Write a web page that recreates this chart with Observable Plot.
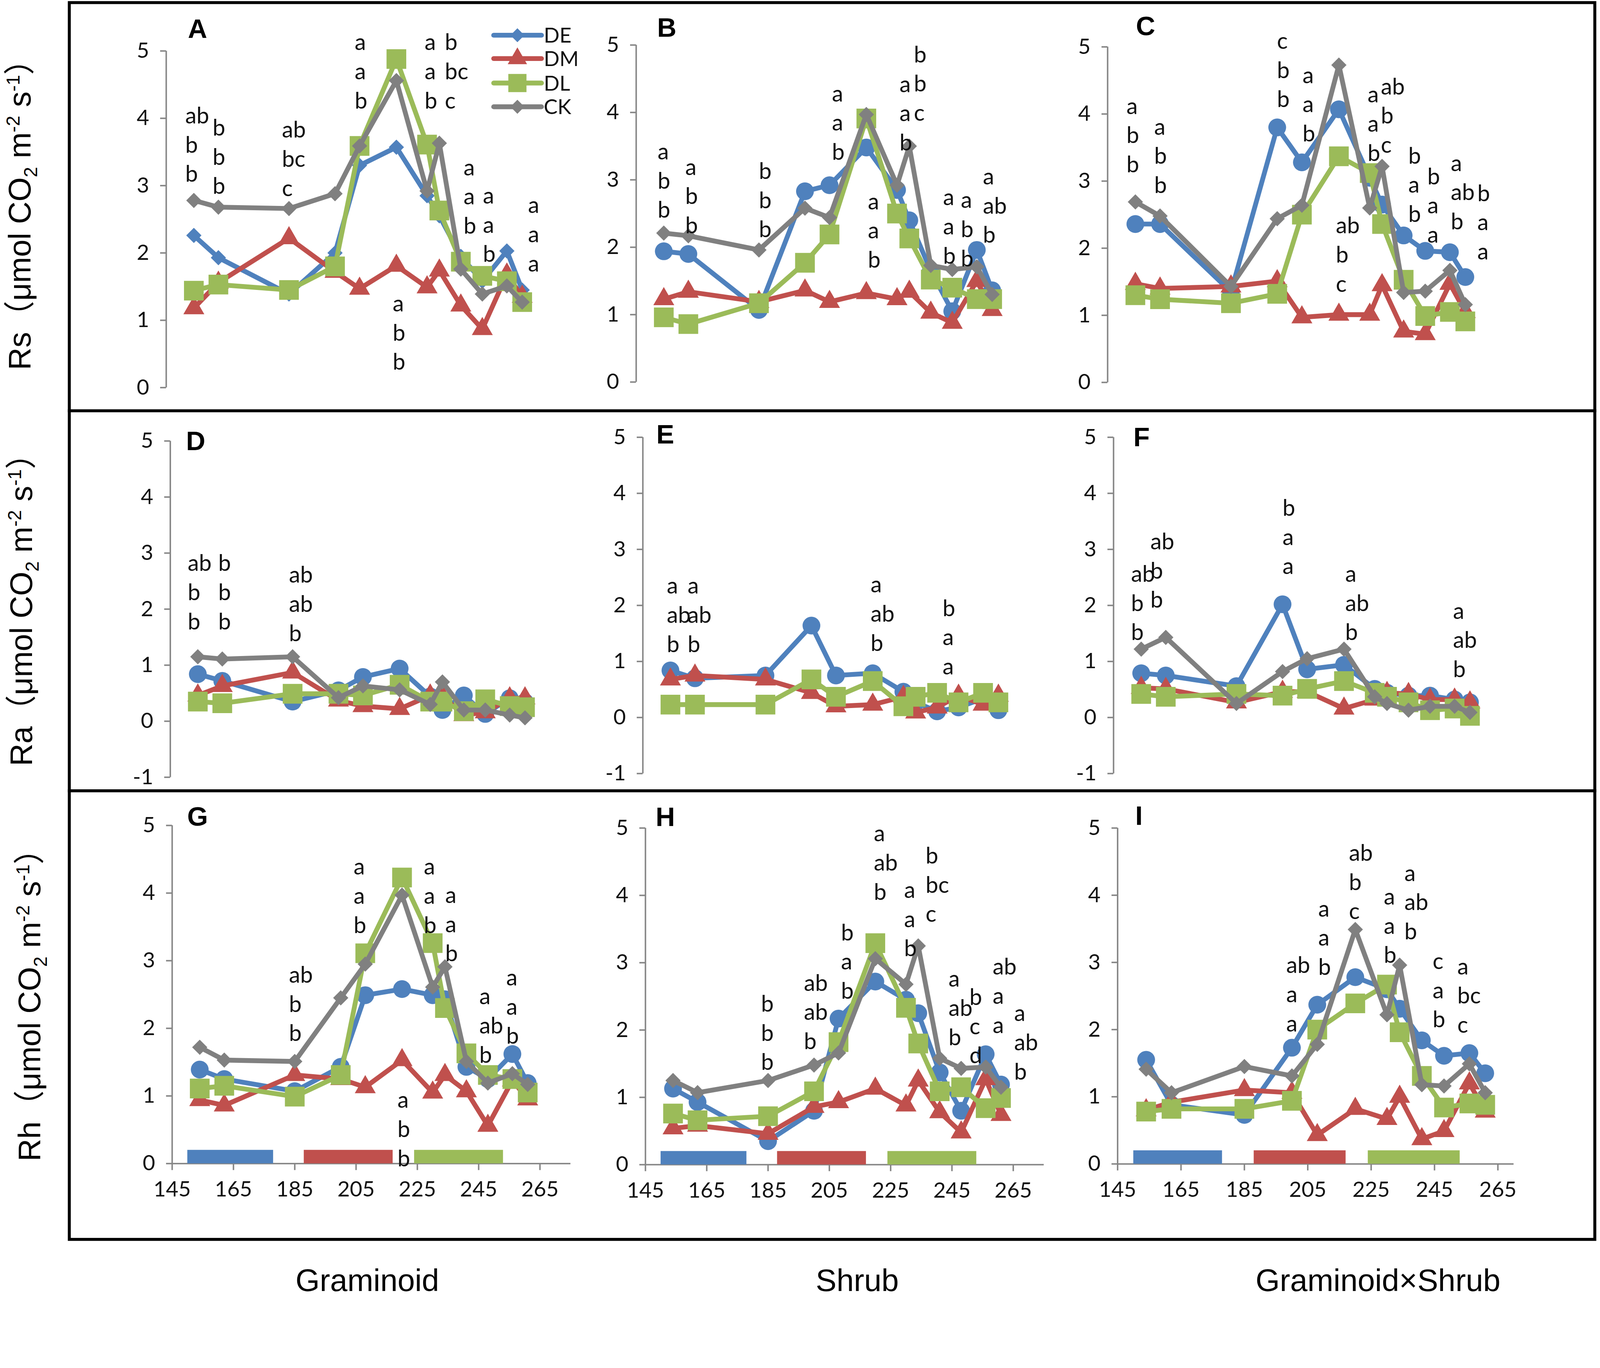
<!DOCTYPE html>
<html><head><meta charset="utf-8">
<script src="https://cdn.jsdelivr.net/npm/d3@7"></script>
<script src="https://cdn.jsdelivr.net/npm/@observablehq/plot@0.6"></script>
<style>
html,body{margin:0;padding:0;background:#fff;overflow:hidden;}
#fig{position:relative;width:4317px;height:3501px;background:#fff;overflow:hidden;transform-origin:0 0;}
#fig svg{overflow:visible;}
.ylab{position:absolute;white-space:nowrap;font-family:"Liberation Sans","Noto Sans CJK SC",Arial,sans-serif;font-size:84px;line-height:0.9;color:#000;transform:translate(-50%,-50%) rotate(-90deg);}
.ylab sub,.ylab sup{font-size:0.6em;line-height:0;}
.plab{position:absolute;font-family:"Liberation Sans",Arial,sans-serif;font-weight:bold;font-size:72px;line-height:1;color:#000;transform:translate(-50%,-50%);}
.blab{position:absolute;font-family:"Liberation Sans",Arial,sans-serif;font-size:84px;line-height:0.85;color:#000;transform:translateX(-50%);white-space:nowrap;}
</style></head>
<body><div id="fig"></div>
<script>
// ---------------- data ----------------
const days = [154, 162, 185, 200, 208, 220, 230, 234, 241, 248, 256, 261];
const seriesNames = ["DE", "DM", "DL", "CK"];
const xTicks = [145, 165, 185, 205, 225, 245, 265];
const columnNames = ["Graminoid", "Shrub", "Graminoid×Shrub"];
const rowNames = ["Rs", "Ra", "Rh"];

// Rs
const A_DE = [2.26, 1.93, 1.39, 2.00, 3.30, 3.57, 2.85, 2.55, 1.95, 1.58, 2.03, 1.45];
const A_DM = [1.18, 1.56, 2.22, 1.72, 1.47, 1.81, 1.49, 1.74, 1.22, 0.87, 1.68, 1.35];
const A_DL = [1.44, 1.53, 1.45, 1.80, 3.59, 4.88, 3.61, 2.63, 1.87, 1.66, 1.58, 1.27];
const A_CK = [2.78, 2.68, 2.66, 2.88, 3.59, 4.56, 2.92, 3.63, 1.76, 1.39, 1.51, 1.27];

const B_DE = [1.94, 1.90, 1.07, 2.83, 2.92, 3.48, 2.85, 2.40, 1.65, 1.05, 1.96, 1.36];
const B_DM = [1.23, 1.34, 1.19, 1.36, 1.19, 1.32, 1.23, 1.34, 1.03, 0.88, 1.50, 1.07];
const B_DL = [0.96, 0.86, 1.17, 1.77, 2.19, 3.91, 2.50, 2.13, 1.52, 1.40, 1.23, 1.23];
const B_CK = [2.21, 2.17, 1.96, 2.58, 2.44, 3.97, 2.92, 3.50, 1.73, 1.67, 1.71, 1.30];

const C_DE = [2.36, 2.36, 1.35, 3.80, 3.28, 4.07, 3.05, 2.65, 2.19, 1.96, 1.94, 1.57];
const C_DM = [1.47, 1.40, 1.43, 1.51, 0.97, 1.01, 1.01, 1.45, 0.76, 0.72, 1.47, 1.05];
const C_DL = [1.30, 1.24, 1.18, 1.32, 2.50, 3.37, 3.12, 2.36, 1.53, 0.99, 1.05, 0.91];
const C_CK = [2.69, 2.48, 1.43, 2.44, 2.64, 4.73, 2.60, 3.22, 1.34, 1.36, 1.67, 1.16];

// Ra
const D_DE = [0.84, 0.72, 0.35, 0.55, 0.79, 0.94, 0.44, 0.20, 0.46, 0.13, 0.41, 0.34];
const D_DM = [0.46, 0.63, 0.87, 0.37, 0.27, 0.22, 0.46, 0.44, 0.11, 0.16, 0.41, 0.41];
const D_DL = [0.35, 0.32, 0.49, 0.49, 0.46, 0.65, 0.35, 0.35, 0.18, 0.39, 0.27, 0.25];
const D_CK = [1.15, 1.11, 1.15, 0.42, 0.63, 0.56, 0.30, 0.70, 0.20, 0.20, 0.11, 0.06];

const E_DE = [0.84, 0.70, 0.75, 1.64, 0.75, 0.79, 0.46, 0.27, 0.11, 0.18, 0.34, 0.13];
const E_DM = [0.68, 0.75, 0.68, 0.44, 0.20, 0.23, 0.37, 0.09, 0.18, 0.39, 0.23, 0.39];
const E_DL = [0.23, 0.23, 0.23, 0.68, 0.37, 0.65, 0.20, 0.37, 0.44, 0.27, 0.44, 0.27];
const E_CK = [];

const F_DE = [0.79, 0.75, 0.56, 2.02, 0.86, 0.94, 0.51, 0.44, 0.39, 0.39, 0.32, 0.27];
const F_DM = [0.53, 0.51, 0.27, 0.46, 0.46, 0.16, 0.32, 0.44, 0.42, 0.32, 0.32, 0.27];
const F_DL = [0.42, 0.37, 0.42, 0.39, 0.51, 0.65, 0.44, 0.37, 0.27, 0.13, 0.16, 0.03];
const F_CK = [1.22, 1.43, 0.25, 0.82, 1.05, 1.22, 0.37, 0.25, 0.13, 0.20, 0.20, 0.09];

// Rh
const G_DE = [1.39, 1.25, 1.07, 1.43, 2.49, 2.58, 2.49, 2.43, 1.43, 1.25, 1.62, 1.19];
const G_DM = [0.94, 0.86, 1.31, 1.25, 1.13, 1.53, 1.05, 1.31, 1.07, 0.56, 1.23, 0.95];
const G_DL = [1.11, 1.15, 0.99, 1.31, 3.11, 4.23, 3.26, 2.30, 1.63, 1.31, 1.25, 1.05];
const G_CK = [1.72, 1.53, 1.51, 2.45, 2.95, 3.97, 2.61, 2.91, 1.51, 1.19, 1.33, 1.17];

const H_DE = [1.13, 0.93, 0.35, 0.80, 2.17, 2.72, 2.45, 2.25, 1.37, 0.80, 1.64, 1.19];
const H_DM = [0.54, 0.58, 0.46, 0.86, 0.93, 1.13, 0.88, 1.25, 0.78, 0.48, 1.27, 0.74];
const H_DL = [0.76, 0.66, 0.72, 1.09, 1.82, 3.29, 2.33, 1.80, 1.09, 1.15, 0.84, 0.99];
const H_CK = [1.25, 1.07, 1.25, 1.48, 1.66, 3.06, 2.68, 3.25, 1.58, 1.43, 1.45, 1.15];

const I_DE = [1.55, 0.88, 0.73, 1.73, 2.37, 2.78, 2.60, 2.31, 1.84, 1.61, 1.65, 1.35];
const I_DM = [0.80, 0.92, 1.10, 1.06, 0.43, 0.82, 0.67, 1.00, 0.37, 0.49, 1.20, 0.78];
const I_DL = [0.78, 0.82, 0.82, 0.94, 2.00, 2.39, 2.67, 1.96, 1.31, 0.84, 0.90, 0.88];
const I_CK = [1.41, 1.06, 1.45, 1.31, 1.78, 3.49, 2.22, 2.96, 1.18, 1.16, 1.49, 1.06];

// significance letters: [day, value at top of first line, lines]
const A_letters = [[151.2,4.23,"ab\nb\nb"],[160.1,4.05,"b\nb\nb"],[182.7,4.02,"ab\nbc\nc"],[206.4,5.32,"a\na\nb"],[229.2,5.32,"a\na\nb"],[235.8,5.32,"b\nbc\nc"],[241.9,3.46,"a\na\nb"],[248.2,3.04,"a\na\nb"],[262.9,2.90,"a\na\na"],[218.8,1.44,"a\nb\nb"]];
const B_letters = [[152.0,3.61,"a\nb\nb"],[161.0,3.38,"a\nb\nb"],[185.0,3.32,"b\nb\nb"],[208.8,4.47,"a\na\nb"],[220.5,2.87,"a\na\nb"],[230.8,4.61,"a\na\nb"],[235.5,5.05,"b\nb\nc"],[245.0,2.93,"a\na\nb"],[250.8,2.89,"a\nb\nb"],[258.0,3.24,"a\nab\nb"]];
const C_letters = [[151.1,4.31,"a\nb\nb"],[160.1,4.00,"a\nb\nb"],[199.9,5.28,"c\nb\nb"],[208.2,4.77,"a\na\nb"],[219.0,2.53,"ab\nb\nc"],[229.3,4.48,"a\na\nb"],[233.6,4.60,"ab\nb\nc"],[242.5,3.57,"b\na\nb"],[248.7,3.26,"b\na\na"],[256.3,3.46,"a\nab\nb"],[264.9,3.01,"b\na\na"]];
const D_letters = [[150.7,3.05,"ab\nb\nb"],[160.7,3.05,"b\nb\nb"],[183.8,2.84,"ab\nab\nb"]];
const E_letters = [[152.8,2.58,"a\nab\nb"],[159.6,2.58,"a\nab\nb"],[219.3,2.60,"a\nab\nb"],[242.8,2.18,"b\na\na"]];
const F_letters = [[150.7,2.79,"ab\nb\nb"],[157.0,3.37,"ab\nb\nb"],[200.0,3.97,"b\na\na"],[220.4,2.79,"a\nab\nb"],[255.5,2.13,"a\nab\nb"]];
const G_letters = [[183.1,2.98,"ab\nb\nb"],[204.2,4.58,"a\na\nb"],[227.1,4.58,"a\na\nb"],[234.1,4.16,"a\na\nb"],[245.2,2.66,"a\nab\nb"],[254.0,2.94,"a\na\nb"],[218.5,1.13,"a\nb\nb"]];
const H_letters = [[182.7,2.58,"b\nb\nb"],[196.7,2.89,"ab\nab\nb"],[208.8,3.64,"b\na\nb"],[219.5,5.11,"a\nab\nb"],[229.4,4.27,"a\na\nb"],[236.4,4.78,"b\nbc\nc"],[243.9,2.95,"a\nab\nb"],[250.7,2.68,"b\nc\nd"],[258.3,3.13,"ab\na\na"],[265.3,2.44,"a\nab\nb"]];
const I_letters = [[198.2,3.15,"ab\na\na"],[208.3,3.99,"a\na\nb"],[218.0,4.82,"ab\nb\nc"],[229.0,4.17,"a\na\nb"],[235.5,4.52,"a\nab\nb"],[244.4,3.21,"c\na\nb"],[252.2,3.13,"a\nbc\nc"]];

// drought periods (bars under Rh panels)
const droughtSeries = ["DE", "DM", "DL"];
const droughtStart = [150, 188, 224];
const droughtEnd = [178, 217, 253];
const barTop = 0.2;

// ---------------- styles ----------------
const colors = {DE: "#4F81BD", DM: "#C0504D", DL: "#9BBB59", CK: "#808080"};
const axisGray = "#868686";
const textColor = "#111";
const lineW = 13;
const markerR = {circle: 24, diamond2: 18.5, triangle: 21, square: 30};
const letterSize = 61, tickFont = 58;

// ---------------- layout ----------------
const panels = [
  {key:"A", axisX:448,  topPx:137,  botPx:1045, yMin:0,  pxDay:8.28, xMax:275, deSym:"diamond2", data:[A_DE,A_DM,A_DL,A_CK], letters:A_letters, xAxis:false, lab:[533,77]},
  {key:"B", axisX:1716, topPx:121,  botPx:1030, yMin:0,  pxDay:8.28, xMax:275, deSym:"circle",   data:[B_DE,B_DM,B_DL,B_CK], letters:B_letters, xAxis:false, lab:[1799,74]},
  {key:"C", axisX:2988, topPx:126,  botPx:1031, yMin:0,  pxDay:8.32, xMax:275, deSym:"circle",   data:[C_DE,C_DM,C_DL,C_CK], letters:C_letters, xAxis:false, lab:[3091,70]},
  {key:"D", axisX:459,  topPx:1189, botPx:2096, yMin:-1, pxDay:8.25, xMax:275, deSym:"circle",   data:[D_DE,D_DM,D_DL,D_CK], letters:D_letters, xAxis:false, lab:[528,1189]},
  {key:"E", axisX:1734, topPx:1179, botPx:2086, yMin:-1, pxDay:8.27, xMax:275, deSym:"circle",   data:[E_DE,E_DM,E_DL,E_CK], letters:E_letters, xAxis:false, lab:[1795,1171]},
  {key:"F", axisX:3004, topPx:1179, botPx:2086, yMin:-1, pxDay:8.29, xMax:275, deSym:"circle",   data:[F_DE,F_DM,F_DL,F_CK], letters:F_letters, xAxis:false, lab:[3080,1179]},
  {key:"G", axisX:464,  topPx:2226, botPx:3138, yMin:0,  pxDay:8.27, xMax:275, deSym:"circle",   data:[G_DE,G_DM,G_DL,G_CK], letters:G_letters, xAxis:true,  lab:[533,2202]},
  {key:"H", axisX:1741, topPx:2233, botPx:3141, yMin:0,  pxDay:8.27, xMax:275, deSym:"circle",   data:[H_DE,H_DM,H_DL,H_CK], letters:H_letters, xAxis:true,  lab:[1795,2203]},
  {key:"I", axisX:3015, topPx:2233, botPx:3139, yMin:0,  pxDay:8.55, xMax:270, deSym:"circle",   data:[I_DE,I_DM,I_DL,I_CK], letters:I_letters, xAxis:true,  lab:[3073,2200]},
];

const fig = document.getElementById("fig");
function fit() {
  const vw = document.documentElement.clientWidth || window.innerWidth || 4317;
  const vh = window.innerHeight || 3501;
  const s = Math.min(vw / 4317, vh / 3501);
  fig.style.transform = Math.abs(s - 1) > 0.002 ? `scale(${s})` : "none";
}
fit();
window.addEventListener("resize", fit);

function addDiv(cls, html, css) {
  const d = document.createElement("div");
  d.className = cls; d.innerHTML = html;
  Object.assign(d.style, css);
  fig.appendChild(d);
  return d;
}

// frame
addDiv("", "", {position:"absolute", left:"183px", top:"3px", width:"4124px", height:"3344px", border:"8px solid #000", boxSizing:"border-box"});
addDiv("", "", {position:"absolute", left:"183px", top:"1104px", width:"4124px", height:"8px", background:"#000"});
addDiv("", "", {position:"absolute", left:"183px", top:"2129px", width:"4124px", height:"8px", background:"#000"});

const fmt = d => (d < 0 ? "-" + Math.abs(d) : String(d));

function drawPanel(p) {
  const mL = 200, mR = 80, mT = 100, mB = 170;
  const plotW = (p.xMax - 145) * p.pxDay;
  const plotH = p.botPx - p.topPx;
  const W = mL + plotW + mR, H = mT + plotH + mB;
  const symbols = [p.deSym, "triangle", "square", "diamond2"];
  const marks = [];
  marks.push(Plot.ruleX([145], {y1: p.yMin, y2: 5, stroke: axisGray, strokeWidth: 4}));
  marks.push(Plot.axisY({anchor: "left", label: null, ticks: d3.range(p.yMin, 6), tickSize: 16, tickPadding: 30,
    tickFormat: fmt, stroke: axisGray, strokeWidth: 4, fill: textColor, fontSize: tickFont, fontFamily: "Lato"}));
  if (p.xAxis) {
    marks.push(Plot.ruleY([0], {x1: 145, x2: p.xMax, stroke: axisGray, strokeWidth: 4}));
    marks.push(Plot.axisX({anchor: "bottom", label: null, ticks: xTicks, tickSize: 18, tickPadding: 30,
      stroke: axisGray, strokeWidth: 4, fill: textColor, fontSize: tickFont, fontFamily: "Lato"}));
    const bars = droughtSeries.map((s, i) => ({s, x1: droughtStart[i], x2: droughtEnd[i]}));
    marks.push(Plot.rectY(bars, {x1: "x1", x2: "x2", y1: 0, y2: barTop, fill: d => colors[d.s]}));
  }
  seriesNames.forEach((name, k) => {
    const vals = p.data[k];
    if (!vals.length) return;
    const rows = days.map((d, i) => ({day: d, v: vals[i]}));
    marks.push(Plot.line(rows, {x: "day", y: "v", stroke: colors[name], strokeWidth: lineW, strokeLinejoin: "round", strokeLinecap: "round"}));
    marks.push(Plot.dot(rows, {x: "day", y: "v", symbol: symbols[k], r: markerR[symbols[k]], fill: colors[name], stroke: "none"}));
  });
  marks.push(Plot.text(p.letters, {x: d => d[0], y: d => d[1], text: d => d[2], textAnchor: "start", lineAnchor: "top",
    lineHeight: 1.29, fontSize: letterSize, fontFamily: "Lato", fill: textColor}));

  const chart = Plot.plot({
    width: W, height: H, marginLeft: mL, marginRight: mR, marginTop: mT, marginBottom: mB,
    style: {background: "transparent", overflow: "visible", fontFamily: "Lato", fontSize: tickFont + "px", color: textColor, maxWidth: "none"},
    x: {domain: [145, p.xMax], range: [mL, mL + plotW], axis: null},
    y: {domain: [p.yMin, 5], range: [mT + plotH, mT], axis: null},
    marks
  });
  chart.style.position = "absolute";
  chart.style.left = (p.axisX - mL) + "px";
  chart.style.top = (p.topPx - mT) + "px";
  fig.appendChild(chart);
  addDiv("plab", p.key, {left: p.lab[0] + "px", top: p.lab[1] + "px"});
}
panels.forEach(drawPanel);

// legend (panel A)
(function legend() {
  const legSym = [d3.symbolDiamond2, d3.symbolTriangle, d3.symbolSquare, d3.symbolDiamond2];
  const legR = [markerR.diamond2, markerR.triangle, markerR.square, markerR.diamond2];
  const rowsY = [95, 158, 224, 288];
  const svg = d3.create("svg").attr("width", 300).attr("height", 330)
    .style("position", "absolute").style("left", "1300px").style("top", "40px").style("overflow", "visible");
  seriesNames.forEach((name, i) => {
    const y = rowsY[i] - 40;
    svg.append("line").attr("x1", 32).attr("x2", 161).attr("y1", y).attr("y2", y)
      .attr("stroke", colors[name]).attr("stroke-width", lineW).attr("stroke-linecap", "round");
    svg.append("path").attr("d", d3.symbol(legSym[i], Math.PI * legR[i] * legR[i] * 0.85)())
      .attr("transform", `translate(96,${y})`).attr("fill", colors[name]);
    svg.append("text").attr("x", 167).attr("y", y).attr("dy", "0.36em").text(name)
      .attr("font-family", "Lato").attr("font-size", 56).attr("fill", textColor);
  });
  fig.appendChild(svg.node());
})();

// y-axis titles
const ylabPos = [[54, 558], [58, 1624], [80, 2690]];
rowNames.forEach((r, i) => {
  addDiv("ylab", `${r}（μmol CO<sub>2</sub> m<sup>-2</sup> s<sup>-1</sup>）`, {left: ylabPos[i][0] + "px", top: ylabPos[i][1] + "px"});
});

// column titles
const colX = [991, 2313, 3718];
columnNames.forEach((c, i) => addDiv("blab", c, {left: colX[i] + "px", top: "3418px"}));
</script>
</body></html>
